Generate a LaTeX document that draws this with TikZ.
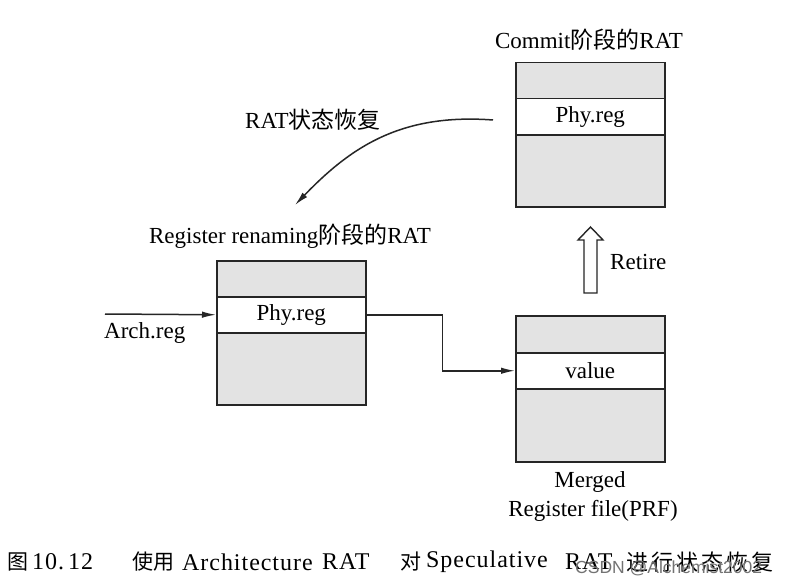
\documentclass[tikz,border=0pt]{standalone}
\usepackage{fontspec}
\setmainfont{Liberation Serif}
\newfontfamily\cjk{Noto Sans CJK SC}
\newfontfamily\wmfont{Liberation Sans}
\newfontfamily\capfont[LetterSpace=4]{Liberation Serif}
\usetikzlibrary{arrows.meta}
\begin{document}
\begin{tikzpicture}[x=1pt,y=-1pt,
 lbl/.style={font=\fontsize{23}{27}\selectfont, inner sep=0pt},
 regbox/.style={draw=black!85, line width=1.5pt, fill=black!11, minimum width=149pt, minimum height=144pt, anchor=north west, inner sep=0pt},
 rowbox/.style={draw=black!85, line width=1.5pt, fill=white, minimum width=149pt, minimum height=36pt, anchor=north west, inner sep=0pt, font=\fontsize{23}{27}\selectfont},
 conn/.style={draw=black!85, line width=1.5pt, -{Latex[length=14pt,width=6.5pt]}},
 captxt/.style={font=\fontsize{24}{27}\selectfont\capfont, anchor=west, inner sep=0pt},
 capcjk/.style={font=\fontsize{21}{27}\selectfont\cjk, anchor=west, inner sep=0pt}]

\useasboundingbox[fill=white] (0,0) rectangle (793,586);

% boxes
\node[regbox] (cbox) at (515,62) {};
\node[rowbox] (crow) at (515,98) {Phy.reg};
\node[regbox] (rbox) at (216,260) {};
\node[rowbox] (rrow) at (216,296) {Phy.reg};
\node[regbox, minimum height=146pt] (mbox) at (515,315) {};
\node[rowbox] (mrow) at (515,352) {value};

% titles and labels
\node[lbl] (ctitle) at (589,40) {Commit{\cjk 阶段的}RAT};
\node[lbl] (rtitle) at (290,236) {Register renaming{\cjk 阶段的}RAT};
\node[lbl, anchor=west] (arch) at (104,333) {Arch.reg};
\node[lbl, anchor=west] (rec) at (245,120) {RAT{\cjk 状态恢复}};
\node[lbl, anchor=west] (ret) at (610,262) {Retire};
\node[lbl] (mlab1) at (590,482) {Merged};
\node[lbl] (mlab2) at (593,511) {Register file(PRF)};

% connectors
\coordinate (ain) at (105,314);
\draw[conn] (ain) -- (rrow.west);
\draw[conn] (rrow.east) -- ++(76,0) |- (mrow.west);
\coordinate (cs) at (493,120);
\coordinate (ce) at (295,205);
\draw[conn] (cs) .. controls (400,113) and (350,148) .. (ce);

% hollow retire arrow
\draw[draw=black!85, line width=1.4pt, fill=white] (584,293) -- (584,240) -- (578,240) -- (590.5,227) -- (603,240) -- (597,240) -- (597,293) -- cycle;

% caption
\node[capcjk] (c1) at (7,562) {图};
\node[captxt] (c2) at (32,562) {10.\,12};
\node[capcjk] (c3) at (132,562) {使用};
\node[captxt] (c4) at (182,562) {Architecture};
\node[captxt] (c5) at (322,562) {RAT};
\node[capcjk] (c6) at (400,562) {对};
\node[captxt] (c7) at (426,562) {Speculative};
\node[captxt] (c8) at (565,562) {RAT};
\node[capcjk, font=\fontsize{22}{27}\selectfont\cjk\addfontfeatures{LetterSpace=14}] (c9) at (626,562) {进行状态恢复};

% watermark
\node[font=\wmfont\fontsize{17.5}{20}\selectfont, text=black!55, anchor=west, inner sep=0pt] (wm) at (575,568) {CSDN @Alchemist2002};
\end{tikzpicture}
\end{document}
